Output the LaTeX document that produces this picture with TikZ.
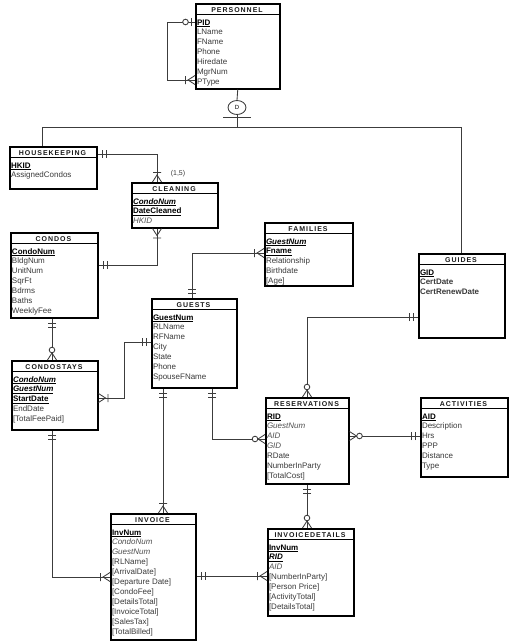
\documentclass[tikz,border=0pt]{standalone}
\usepackage{fontspec}
\setmainfont{Liberation Sans}
\newfontfamily\ttlfont[LetterSpace=14]{Liberation Sans}
\usetikzlibrary{shadows,shapes.geometric}
\definecolor{attrc}{HTML}{3A3A3A}
\definecolor{fkc}{HTML}{505050}
\definecolor{linec}{HTML}{3C3C3C}
\tikzset{
 ebox/.style={draw=black, line width=1.5pt, fill=white, inner sep=0pt,
   drop shadow={shadow xshift=1.6pt, shadow yshift=-1.6pt, fill=black!40, opacity=1}},
 etitle/.style={font=\ttlfont\bfseries\fontsize{7}{8}\selectfont, text=black!90, inner sep=0pt, anchor=base},
 attr/.style={font=\fontsize{8}{9}\selectfont, text=attrc, inner sep=0pt, anchor=base west},
 sepline/.style={line width=1.3pt},
 conn/.style={draw=linec, line width=0.85pt},
 mk/.style={draw=linec, line width=0.85pt},
}
\newcommand\pk[1]{{\color{black}\underline{\textbf{#1}}}}
\newcommand\pkfk[1]{{\color{black}\underline{\textbf{\textit{#1}}}}}
\newcommand\fk[1]{{\color{fkc}\textit{#1}}}
\newcommand\ent[7]{%
 \node[ebox, minimum width=#4pt, minimum height=#5pt, anchor=north west] (#1) at (#2,#3) {};
 \node[etitle] (#1-t) at (#2+#4/2,#3+9.2) {#6};
 \draw[sepline] (#2,#3+11.5) -- (#2+#4,#3+11.5);
 \foreach \a [count=\i] in {#7} {\node[attr] (#1-\i) at (#2+1.8,#3+22+\i*9.95-9.95) {\a};}
}
\newcommand\mone[2]{\begin{scope}[shift={(#1)},rotate=#2]\draw[mk] (5,-4)--(5,4) (8.5,-4)--(8.5,4);\end{scope}}
\newcommand\crowone[2]{\begin{scope}[shift={(#1)},rotate=#2]\draw[mk] (0,-4.5)--(7,0)--(0,4.5) (9.5,-4)--(9.5,4);\end{scope}}
\newcommand\crowzero[2]{\begin{scope}[shift={(#1)},rotate=#2]\draw[mk] (0,-4.5)--(7,0)--(0,4.5); \draw[mk,fill=white] (10,0) circle (2.8);\end{scope}}
\newcommand\zone[2]{\begin{scope}[shift={(#1)},rotate=#2]\draw[mk] (4,-4)--(4,4); \draw[mk,fill=white] (9.5,0) circle (2.8);\end{scope}}
\begin{document}
\begin{tikzpicture}[x=1pt,y=-1pt]
\fill[white] (0,0) rectangle (513,643);
\useasboundingbox (0,0) rectangle (513,643);
% entities
\ent{personnel}{195}{3}{84}{85}{PERSONNEL}{\pk{PID},LName,FName,Phone,Hiredate,MgrNum,PType}
\ent{hk}{9}{146}{87}{42}{HOUSEKEEPING}{\pk{HKID},AssignedCondos}
\ent{clean}{131}{182}{86}{45}{CLEANING}{\pkfk{CondoNum},\pk{DateCleaned},\fk{HKID}}
\ent{condos}{10}{232}{87}{85}{CONDOS}{\pk{CondoNum},BldgNum,UnitNum,SqrFt,Bdrms,Baths,WeeklyFee}
\ent{families}{264}{222}{88}{63}{FAMILIES}{\pkfk{GuestNum},\pk{Fname},Relationship,Birthdate,{[Age]}}
\ent{guides}{418}{253}{86}{84}{GUIDES}{\pk{GID},\textbf{CertDate},\textbf{CertRenewDate}}
\ent{guests}{151}{298}{85}{89}{GUESTS}{\pk{GuestNum},RLName,RFName,City,State,Phone,SpouseFName}
\ent{cstays}{11}{360}{86}{69}{CONDOSTAYS}{\pkfk{CondoNum},\pkfk{GuestNum},\pk{StartDate},EndDate,{[TotalFeePaid]}}
\ent{res}{265}{397}{83}{86}{RESERVATIONS}{\pk{RID},\fk{GuestNum},\fk{AID},\fk{GID},RDate,NumberInParty,{[TotalCost]}}
\ent{act}{420}{397}{87}{79}{ACTIVITIES}{\pk{AID},Description,Hrs,PPP,Distance,Type}
\ent{invoice}{110}{513}{85}{126}{INVOICE}{\pk{InvNum},\fk{CondoNum},\fk{GuestNum},{[RLName]},{[ArrivalDate]},{[Departure Date]},{[CondoFee]},{[DetailsTotal]},{[InvoiceTotal]},{[SalesTax]},{[TotalBilled]}}
\ent{invd}{267}{528}{86}{87}{INVOICEDETAILS}{\pk{InvNum},\pkfk{RID},\fk{AID},{[NumberInParty]},{[Person Price]},{[ActivityTotal]},{[DetailsTotal]}}
% subtype discriminator
\node[draw=linec, line width=0.85pt, ellipse, minimum width=18pt, minimum height=14pt, inner sep=0pt, fill=white, font=\fontsize{6}{7}\selectfont] (dnode) at (237,107.5) {D};
\coordinate (jl) at (42,127);
\coordinate (jm) at (237,127);
\coordinate (jr) at (461,127);
\draw[conn] (personnel.south) -- (dnode.north);
\draw[conn] (dnode.south) -- (jm);
\draw[conn] (223,117) -- (251,117);
\draw[conn] (42,0 |- hk.north) -- (jl) -- (jr) -- (461,0 |- guides.north);
\node[font=\fontsize{7}{8}\selectfont, text=attrc, inner sep=0pt] (card) at (178,174) {(1,5)};
% connectors
\draw[conn] (personnel.west |- 0,22) -- (167,22) -- (167,80) -- (personnel.west |- 0,80);
\draw[conn] (hk.east |- 0,154) -| (157,0 |- clean.north);
\draw[conn] (157,0 |- clean.south) |- (condos.east |- 0,265);
\draw[conn] (52,0 |- condos.south) -- (52,0 |- cstays.north);
\draw[conn] (cstays.east |- 0,398) -- (124,398) -- (124,342) -- (guests.west |- 0,342);
\draw[conn] (192,0 |- guests.north) |- (families.west |- 0,253);
\draw[conn] (guides.west |- 0,317) -| (307,0 |- res.north);
\draw[conn] (212,0 |- guests.south) |- (res.west |- 0,439);
\draw[conn] (163,0 |- guests.south) -- (163,0 |- invoice.north);
\draw[conn] (res.east |- 0,436) -- (act.west |- 0,436);
\draw[conn] (307,0 |- res.south) -- (307,0 |- invd.north);
\draw[conn] (invoice.east |- 0,576) -- (invd.west |- 0,576);
\draw[conn] (52,0 |- cstays.south) |- (invoice.west |- 0,577);
% cardinality marks
\zone{personnel.west |- 0,22}{180}
\crowone{personnel.west |- 0,80}{180}
\mone{hk.east |- 0,154}{0}
\crowone{157,0 |- clean.north}{90}
\crowone{157,0 |- clean.south}{-90}
\mone{condos.east |- 0,265}{0}
\mone{52,0 |- condos.south}{-90}
\crowzero{52,0 |- cstays.north}{90}
\crowone{cstays.east |- 0,398}{0}
\mone{guests.west |- 0,342}{180}
\mone{192,0 |- guests.north}{90}
\crowone{families.west |- 0,253}{180}
\mone{guides.west |- 0,317}{180}
\crowzero{307,0 |- res.north}{90}
\mone{212,0 |- guests.south}{-90}
\crowzero{res.west |- 0,439}{180}
\mone{163,0 |- guests.south}{-90}
\crowone{163,0 |- invoice.north}{90}
\crowzero{res.east |- 0,436}{0}
\mone{act.west |- 0,436}{180}
\mone{307,0 |- res.south}{-90}
\crowzero{307,0 |- invd.north}{90}
\mone{invoice.east |- 0,576}{0}
\crowone{invd.west |- 0,576}{180}
\mone{52,0 |- cstays.south}{-90}
\crowone{invoice.west |- 0,577}{180}
\end{tikzpicture}
\end{document}
